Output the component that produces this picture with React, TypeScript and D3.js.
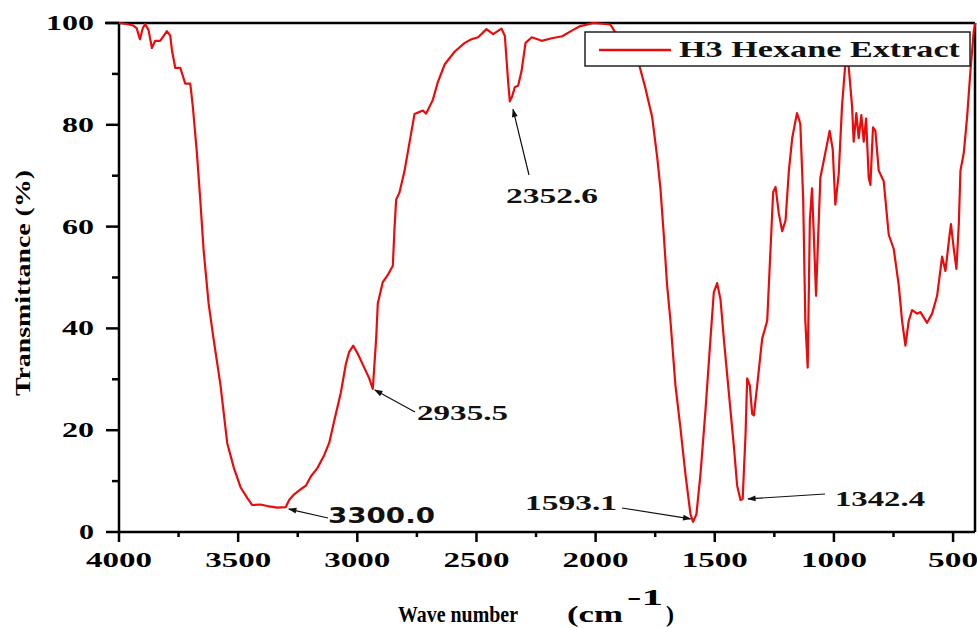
import * as d3 from "d3";

// spectrum (cm-1, %T)
const waveNumbers = [
  4000, 3968, 3940, 3926, 3912, 3900, 3890, 3876, 3862, 3848, 3827, 3799, 3785, 3778, 3764, 3743,
  3722, 3701, 3690, 3673, 3659, 3645, 3624, 3603, 3574, 3546, 3518, 3490, 3462, 3441, 3406, 3378,
  3336, 3300, 3286, 3265, 3237, 3216, 3195, 3167, 3139, 3118, 3097, 3069, 3048, 3034, 3017, 2999,
  2971, 2950, 2935, 2921, 2914, 2893, 2872, 2851, 2844, 2837, 2823, 2802, 2781, 2760, 2725, 2711,
  2683, 2662, 2633, 2591, 2549, 2521, 2493, 2458, 2430, 2395, 2381, 2367, 2360, 2350, 2339, 2325,
  2311, 2294, 2268, 2226, 2184, 2140, 2100, 2064, 2008, 1938, 1917, 1880, 1850, 1819, 1791, 1763,
  1742, 1728, 1714, 1700, 1686, 1665, 1644, 1623, 1602, 1591, 1577, 1560, 1539, 1518, 1504, 1490,
  1476, 1462, 1441, 1420, 1406, 1392, 1383, 1371, 1364, 1353, 1343, 1336, 1322, 1301, 1280, 1266,
  1255, 1245, 1231, 1217, 1203, 1189, 1175, 1155, 1141, 1129, 1120, 1110, 1101, 1092, 1085, 1075,
  1068, 1057, 1036, 1018, 1005, 994, 980, 966, 952, 938, 924, 917, 906, 896, 885, 875,
  865, 854, 847, 836, 826, 812, 791, 770, 749, 728, 714, 700, 686, 672, 651, 637,
  609, 588, 567, 546, 532, 518, 509, 497, 486, 476, 469, 455, 441, 427, 413, 406,
];
const transmittance = [
  100, 99.8, 99.5, 99, 96.8, 99, 99.8, 98.6, 95.1, 96.5, 96.5, 98.4, 97.5, 94.7, 91.2, 91.2,
  88.1, 88.1, 83.5, 74.4, 65.3, 55.4, 44.9, 37.9, 28.8, 17.5, 12.6, 8.8, 6.7, 5.3, 5.4, 5.1,
  4.8, 4.9, 6.3, 7.4, 8.4, 9.1, 10.9, 12.6, 15.1, 17.5, 21.8, 27.4, 33, 35.4, 36.6, 35.1,
  32.3, 30.2, 28.1, 37.9, 44.9, 49.1, 50.5, 52.3, 59.6, 65.3, 66.7, 70.9, 76.5, 82.1, 82.8, 82.2,
  84.9, 88.4, 91.9, 94.4, 96.1, 96.8, 97.2, 98.8, 97.8, 98.9, 97.5, 88.4, 84.6, 85.6, 87.4, 87.7,
  90.5, 96.1, 97.2, 96.5, 97, 97.4, 98.5, 99.4, 100, 99.7, 98.1, 96.5, 94.5, 92.1, 87.2, 81.6,
  73.8, 67.5, 58.4, 48.5, 41.5, 28.8, 20.4, 11.3, 3.5, 2, 3.5, 11.3, 23.9, 38, 47.1, 48.9,
  45.7, 38, 27.4, 16.9, 9.1, 6.3, 6.5, 19, 30.2, 28.8, 23.2, 22.9, 28.8, 38, 41.5, 55.6,
  66.8, 67.8, 62.5, 59.1, 61.2, 71, 77.4, 82.3, 80.2, 65.4, 41.5, 32.3, 61.2, 67.5, 59.1, 46.4,
  55.6, 69.6, 74.5, 78.8, 75.2, 64.3, 70.3, 83.7, 92.1, 91.4, 83.7, 76.7, 82.3, 77.4, 81.9, 76.7,
  81.2, 69.6, 68.2, 79.5, 78.8, 71, 68.9, 58.4, 55.6, 48.5, 41.5, 36.6, 41.5, 43.6, 42.9, 43.2,
  41.1, 42.9, 46.4, 54.1, 51.3, 57, 60.5, 55.6, 51.7, 60.5, 71, 74.5, 81.6, 90.7, 98.5, 100,
];

const xMajorTicks = [4000, 3500, 3000, 2500, 2000, 1500, 1000, 500];
const xMinorTicks = [3750, 3250, 2750, 2250, 1750, 1250, 750];
const yMajorTicks = [0, 20, 40, 60, 80, 100];
const yMinorTicks = [10, 30, 50, 70, 90];

// peak labels and the point each arrow marks
const peakLabels = ["3300.0", "2935.5", "2352.6", "1593.1", "1342.4"];
const peakWaves = [3300, 2935, 2355, 1593, 1390];
const peakValues = [4.9, 28.1, 84.6, 2, 6.5];

const seriesName = "H3 Hexane Extract";

const W = 977;
const H = 628;
const left = 119;
const right = 975;
const top = 23;
const bottom = 532;
const RED = "#ea0c0c";
const serif = "'Liberation Serif', 'Times New Roman', serif";

export default function App() {
  const x = d3.scaleLinear().domain([4000, 408]).range([left, right]);
  const y = d3.scaleLinear().domain([0, 100]).range([bottom, top]);

  const pts = waveNumbers.map((w, i) => [w, transmittance[i]] as [number, number]);
  const line = d3
    .line<[number, number]>()
    .x((d) => x(d[0]))
    .y((d) => y(d[1]));

  // label placement relative to the marked point
  const labelLayout = [
    { tx: 328, ty: 523, len: 107, sans: true, tail: [328, 518], tipDx: 3, tipDy: 2 },
    { tx: 417, ty: 420, len: 91, sans: false, tail: [415, 412], tipDx: 2, tipDy: 1 },
    { tx: 506, ty: 203, len: 92, sans: false, tail: [529, 175], tipDx: 2, tipDy: 8 },
    { tx: 525, ty: 510, len: 92, sans: false, tail: [622, 508], tipDx: -2, tipDy: -3 },
    { tx: 835, ty: 506, len: 90, sans: false, tail: [825, 494], tipDx: 7, tipDy: 0 },
  ];

  return (
    <svg width={W} height={H} style={{ position: "absolute", left: 0, top: 0, background: "#fff" }}>
      <defs>
        <marker id="arr" viewBox="0 0 10 10" refX="9" refY="5" markerWidth="9" markerHeight="7" orient="auto">
          <path d="M0,1.5 L10,5 L0,8.5 Z" fill="#111" />
        </marker>
      </defs>

      {/* frame */}
      <line x1={left - 14} x2={right} y1={top} y2={top} stroke="#000" strokeWidth={2.5} />
      <line x1={right} x2={right} y1={top} y2={bottom} stroke="#000" strokeWidth={2.5} />
      <line x1={left} x2={left} y1={top} y2={bottom} stroke="#000" strokeWidth={2.5} />
      <line x1={left} x2={right} y1={bottom} y2={bottom} stroke="#000" strokeWidth={2.5} />

      {/* spectrum */}
      <path d={line(pts) ?? ""} fill="none" stroke={RED} strokeWidth={2.2} strokeLinejoin="round" />

      {/* y ticks */}
      {yMajorTicks.map((t) => (
        <g key={"ym" + t}>
          <line x1={left - 13} x2={left} y1={y(t)} y2={y(t)} stroke="#000" strokeWidth={2.5} />
          <text
            x={94}
            y={y(t) + 7}
            textAnchor="end"
            fontFamily={serif}
            fontWeight="bold"
            fontSize={22}
            textLength={t === 100 ? 48 : t === 0 ? 15 : 32}
            lengthAdjust="spacingAndGlyphs"
          >
            {t}
          </text>
        </g>
      ))}
      {yMinorTicks.map((t) => (
        <line key={"yn" + t} x1={left - 7} x2={left} y1={y(t)} y2={y(t)} stroke="#000" strokeWidth={2.5} />
      ))}

      {/* x ticks */}
      {xMajorTicks.map((t) => (
        <g key={"xm" + t}>
          <line x1={x(t)} x2={x(t)} y1={bottom} y2={bottom + 10} stroke="#000" strokeWidth={2.5} />
          <text
            x={x(t)}
            y={567}
            textAnchor="middle"
            fontFamily={serif}
            fontWeight="bold"
            fontSize={22}
            textLength={t === 500 ? 50 : 66}
            lengthAdjust="spacingAndGlyphs"
          >
            {t}
          </text>
        </g>
      ))}
      {xMinorTicks.map((t) => (
        <line key={"xn" + t} x1={x(t)} x2={x(t)} y1={bottom} y2={bottom + 5} stroke="#000" strokeWidth={2.5} />
      ))}

      {/* axis titles */}
      <text
        transform="translate(30,283) rotate(-90)"
        textAnchor="middle"
        fontFamily={serif}
        fontWeight="bold"
        fontSize={20}
        textLength={226}
        lengthAdjust="spacingAndGlyphs"
      >
        Transmittance (%)
      </text>
      <text x={398} y={622} fontFamily={serif} fontWeight="bold" fontSize={24} textLength={120} lengthAdjust="spacingAndGlyphs">
        Wave number
      </text>
      <text x={567} y={622} fontFamily={serif} fontWeight="bold" fontSize={24} textLength={56} lengthAdjust="spacingAndGlyphs">
        (cm
      </text>
      <text x={627} y={605} fontFamily={serif} fontWeight="bold" fontSize={24} textLength={36} lengthAdjust="spacingAndGlyphs">
        -1
      </text>
      <text x={666} y={622} fontFamily={serif} fontWeight="bold" fontSize={24}>
        )
      </text>

      {/* peak annotations */}
      {peakLabels.map((lab, i) => {
        const L = labelLayout[i];
        const px = x(peakWaves[i]) + L.tipDx;
        const py = y(peakValues[i]) + L.tipDy;
        return (
          <g key={lab}>
            <line x1={L.tail[0]} y1={L.tail[1]} x2={px} y2={py} stroke="#111" strokeWidth={1.2} markerEnd="url(#arr)" />
            <text
              x={L.tx}
              y={L.ty}
              fontFamily={L.sans ? "'DejaVu Sans', Verdana, sans-serif" : serif}
              fontWeight="bold"
              fontSize={22}
              textLength={L.len}
              lengthAdjust="spacingAndGlyphs"
              fill="#111"
            >
              {lab}
            </text>
          </g>
        );
      })}

      {/* legend */}
      <rect x={585} y={32} width={385} height={34} fill="#fff" stroke="#222" strokeWidth={1.5} />
      <line x1={599} x2={671} y1={50} y2={50} stroke={RED} strokeWidth={2.5} />
      <text x={679} y={57} fontFamily={serif} fontWeight="bold" fontSize={23} textLength={281} lengthAdjust="spacingAndGlyphs" fill="#111">
        {seriesName}
      </text>
    </svg>
  );
}
